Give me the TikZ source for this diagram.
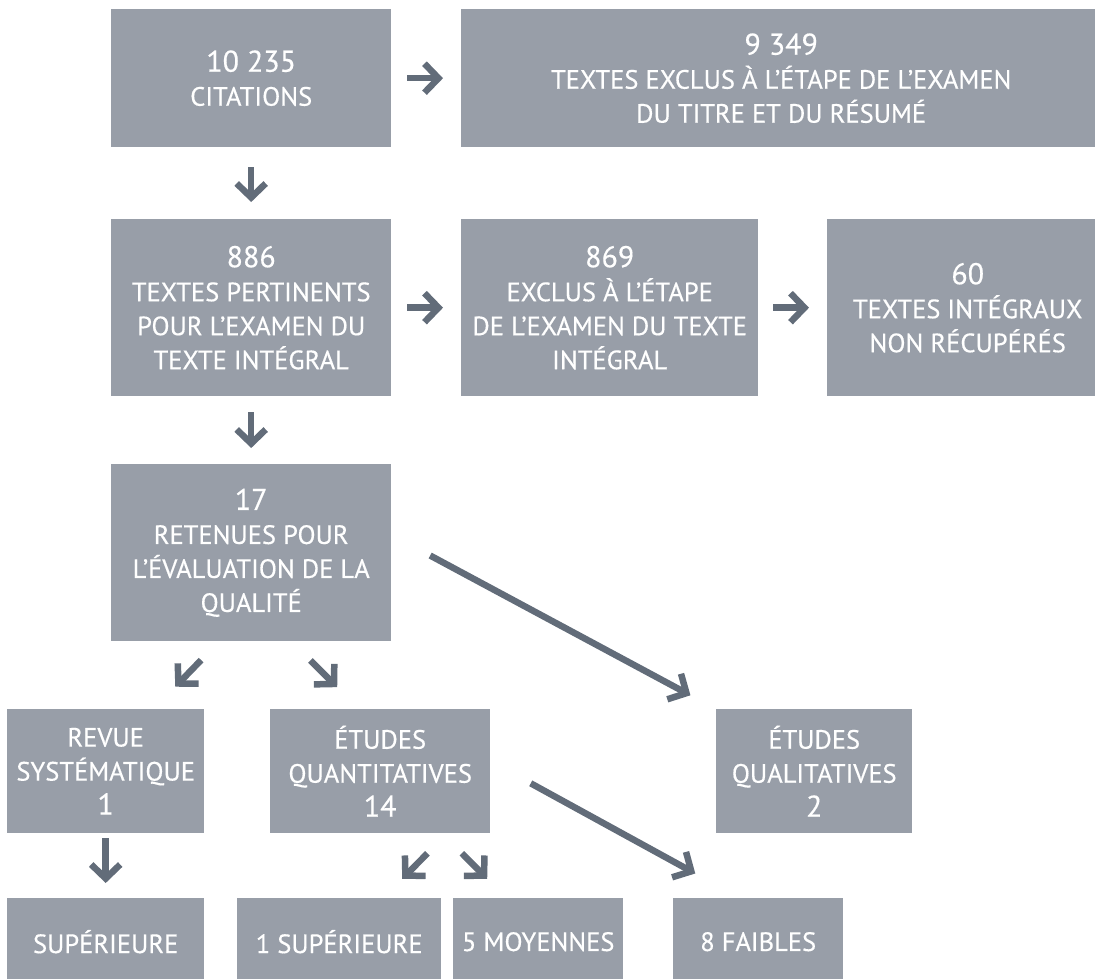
\documentclass[tikz,border=0pt]{standalone}
\usepackage{fontspec}
\setmainfont{PT Sans}[FakeBold=0.4]
\usetikzlibrary{arrows.meta,calc}
\definecolor{boxgrey}{HTML}{989EA8}
\definecolor{arrowgrey}{HTML}{626C79}
\newcommand{\bignum}[1]{{\fontsize{30}{34}\selectfont #1}}
\tikzset{
  box/.style={fill=boxgrey,text=white,inner sep=0pt,anchor=north west,align=center,
    font=\fontsize{26.5}{34}\selectfont},
  arrow/.style={-{Straight Barb[length=14pt,width=29pt]},line width=6.5pt,arrowgrey}
}

\begin{document}
\begin{tikzpicture}[x=1pt,y=-1pt]
    \useasboundingbox (0,0) rectangle (1095,979);
    % top rows
    \node[box,minimum width=280pt,minimum height=138pt] (cit) at (111,9) {\bignum{10 235}\\CITATIONS};
    \node[box,minimum width=640pt,minimum height=138pt] (excl) at (461,9) {\bignum{9 349}\\TEXTES EXCLUS À L’ÉTAPE DE L’EXAMEN\\DU TITRE ET DU RÉSUMÉ};
    \node[box,minimum width=280pt,minimum height=177pt] (pert) at (111,219) {\bignum{886}\\TEXTES PERTINENTS\\POUR L’EXAMEN DU\\TEXTE INTÉGRAL};
    \node[box,minimum width=297pt,minimum height=177pt] (exint) at (461,219) {\bignum{869}\\EXCLUS À L’ÉTAPE\\DE L’EXAMEN DU TEXTE\\INTÉGRAL};
    \node[box,minimum width=281pt,minimum height=177pt] (nonrec) at (827,219) {\bignum{60}\\TEXTES INTÉGRAUX\\NON RÉCUPÉRÉS};
    \node[box,minimum width=280pt,minimum height=177pt] (ret) at (111,464) {\bignum{17}\\RETENUES POUR\\L’ÉVALUATION DE LA\\QUALITÉ};
    % study types
    \node[box,minimum width=197pt,minimum height=124pt] (revue) at (7,709) {REVUE\\SYSTÉMATIQUE\\\bignum{1}};
    \node[box,minimum width=220pt,minimum height=124pt] (quant) at (270,709) {ÉTUDES\\QUANTITATIVES\\\bignum{14}};
    \node[box,minimum width=196pt,minimum height=124pt] (qual) at (716,709) {ÉTUDES\\QUALITATIVES\\\bignum{2}};
    % quality
    \node[box,minimum width=197pt,minimum height=87pt] (sup) at (7,898) {SUPÉRIEURE};
    \node[box,minimum width=204pt,minimum height=87pt] (supq) at (237,898) {1 SUPÉRIEURE};
    \node[box,minimum width=170pt,minimum height=87pt] (moy) at (453,898) {5 MOYENNES};
    \node[box,minimum width=170pt,minimum height=87pt] (faib) at (673,898) {8 FAIBLES};

    \draw[arrow,shorten <=16pt,shorten >=18pt] (cit.east) -- (excl.west);
    \draw[arrow,shorten <=20pt,shorten >=17pt] (cit.south) -- (pert.north);
    \draw[arrow,shorten <=16pt,shorten >=18pt] (pert.east) -- (exint.west);
    \draw[arrow,shorten <=15pt,shorten >=18pt] (exint.east) -- (nonrec.west);
    \draw[arrow,shorten <=16pt,shorten >=16pt] (pert.south) -- (ret.north);
    \draw[arrow,shorten <=44pt,shorten >=29pt] ($(ret.east)+(0,-18)$) -- (qual.north west);
    \draw[arrow,shorten <=26pt,shorten >=31pt] ($(ret.south)+(-32,0)$) -- ($(revue.north)+(48,0)$);
    \draw[arrow,shorten <=27pt,shorten >=31pt] ($(ret.south)+(40,0)$) -- ($(quant.north)+(-21,0)$);
    \draw[arrow,shorten <=5pt,shorten >=15pt] (revue.south) -- (sup.north);
    \draw[arrow,shorten <=28pt,shorten >=27pt] ($(quant.south)+(67,0)$) -- ($(supq.north)+(44,0)$);
    \draw[arrow,shorten <=28pt,shorten >=27pt] ($(quant.south)+(62,0)$) -- ($(moy.north)+(-32,0)$);
    \draw[arrow,shorten <=46pt,shorten >=51pt] ($(quant.east)+(0,-10)$) -- ($(faib.north west)+(67,0)$);
\end{tikzpicture}
\end{document}
